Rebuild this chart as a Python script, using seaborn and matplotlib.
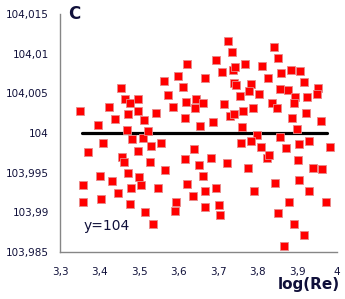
import matplotlib
matplotlib.use("Agg")
import matplotlib.pyplot as plt
import seaborn as sns
import pandas as pd
from matplotlib.ticker import MultipleLocator, FuncFormatter

sns.set_style("white")
plt.rcParams['font.family'] = ['DejaVu Sans']

# puntos (log(Re), valor)
log_re = [3.351, 3.371, 3.396, 3.409, 3.424, 3.439, 3.454, 3.464, 3.477, 3.472,
          3.469, 3.482, 3.497, 3.497, 3.512, 3.510, 3.522, 3.530, 3.555, 3.497,
          3.543, 3.563, 3.573, 3.586, 3.598, 3.621, 3.666, 3.611, 3.618, 3.644,
          3.661, 3.641, 3.616, 3.654, 3.725, 3.735, 3.694, 3.709, 3.737, 3.742,
          3.768, 3.810, 3.841, 3.851, 3.826, 3.859, 3.884, 3.907, 3.740, 3.745,
          3.783, 3.778, 3.803, 3.755, 3.856, 3.876, 3.917, 3.952, 3.950, 3.894,
          3.924, 3.714, 3.762, 3.788, 3.836, 3.848, 3.891, 3.922, 3.886, 3.960,
          3.730, 3.740, 3.687, 3.760, 3.899, 3.798, 3.856, 3.783, 3.757, 3.904,
          3.929, 3.639, 3.808, 3.871, 3.982, 3.457, 3.462, 3.527, 3.565, 3.472,
          3.401, 3.358, 3.431, 3.500, 3.505, 3.479, 3.548, 3.447, 3.358, 3.404,
          3.477, 3.593, 3.515, 3.591, 3.535, 3.616, 3.651, 3.661, 3.621, 3.636,
          3.666, 3.666, 3.682, 3.722, 3.694, 3.702, 3.704, 3.775, 3.790, 3.823,
          3.828, 3.901, 3.939, 3.962, 3.843, 3.904, 3.929, 3.879, 3.972, 3.851,
          3.891, 3.917, 3.866]
valor = [104.0028, 103.9976, 104.0010, 103.9987, 104.0033, 104.0018, 104.0057, 104.0043, 104.0038, 104.0024,
         104.0004, 103.9992, 104.0043, 104.0028, 104.0016, 103.9994, 104.0003, 103.9984, 103.9987, 103.9977,
         104.0025, 104.0066, 104.0048, 104.0033, 104.0072, 104.0087, 104.0069, 104.0058, 104.0039, 104.0043,
         104.0038, 104.0032, 104.0019, 104.0009, 104.0116, 104.0102, 104.0092, 104.0077, 104.0079, 104.0083,
         104.0087, 104.0084, 104.0108, 104.0095, 104.0069, 104.0076, 104.0079, 104.0078, 104.0063, 104.0061,
         104.0062, 104.0053, 104.0049, 104.0047, 104.0055, 104.0054, 104.0064, 104.0057, 104.0049, 104.0045,
         104.0045, 104.0037, 104.0028, 104.0032, 104.0038, 104.0032, 104.0038, 104.0025, 104.0019, 104.0015,
         104.0021, 104.0024, 104.0014, 104.0008, 104.0005, 103.9997, 103.9995, 103.9990, 103.9987, 103.9986,
         103.9990, 103.9980, 103.9982, 103.9981, 103.9982, 103.9970, 103.9963, 103.9963, 103.9953, 103.9950,
         103.9946, 103.9934, 103.9940, 103.9945, 103.9934, 103.9931, 103.9931, 103.9924, 103.9913, 103.9917,
         103.9911, 103.9913, 103.9900, 103.9902, 103.9885, 103.9967, 103.9960, 103.9946, 103.9936, 103.9921,
         103.9927, 103.9907, 103.9968, 103.9962, 103.9931, 103.9909, 103.9897, 103.9956, 103.9927, 103.9968,
         103.9972, 103.9966, 103.9956, 103.9955, 103.9937, 103.9941, 103.9927, 103.9913, 103.9913, 103.9899,
         103.9885, 103.9871, 103.9858]

# recta de referencia y=104
linea_x = [3.355, 3.975]
linea_y = [104, 104]

df = pd.DataFrame({'log_re': log_re, 'valor': valor})
df_linea = pd.DataFrame({'x': linea_x, 'y': linea_y})

fig = plt.figure(figsize=(3.45, 2.99), dpi=100)
ax = fig.add_axes([0.174, 0.157, 0.803, 0.796])

sns.lineplot(data=df_linea, x='x', y='y', color='black', linewidth=2.3, ax=ax, zorder=2)
sns.scatterplot(data=df, x='log_re', y='valor', marker='s', s=30, color='#ff0000',
                edgecolor='#e88a8a', linewidth=0.6, ax=ax, zorder=3)

ax.set_xlim(3.3, 4.0)
ax.set_ylim(103.985, 104.015)
ax.xaxis.set_major_locator(MultipleLocator(0.1))
ax.xaxis.set_minor_locator(MultipleLocator(0.02))
ax.yaxis.set_major_locator(MultipleLocator(0.005))
ax.yaxis.set_minor_locator(MultipleLocator(0.001))

coma = FuncFormatter(lambda v, p: f"{round(v, 4):g}".replace('.', ','))
ax.xaxis.set_major_formatter(coma)
ax.yaxis.set_major_formatter(coma)

for lado in ['top', 'right']:
    ax.spines[lado].set_visible(False)
for lado in ['left', 'bottom']:
    ax.spines[lado].set_color('#868686')
    ax.spines[lado].set_linewidth(1.0)

ax.tick_params(which='major', direction='out', length=5, width=1, color='#868686',
               labelsize=7.5, labelcolor='#10103a', pad=3)
ax.tick_params(which='minor', direction='in', length=4, width=1, color='#868686')
ax.tick_params(axis='x', which='major', pad=6)

ax.set_xlabel('')
ax.set_ylabel('')

fig.text(0.985, 0.025, 'log(Re)', ha='right', va='bottom', fontsize=11,
         fontweight='bold', color='#10103a')
ax.text(0.03, 1.0, 'C', transform=ax.transAxes, ha='left', va='center',
        fontsize=12, fontweight='bold', color='#10103a')
ax.text(3.36, 103.9883, 'y=104', ha='left', va='center', fontsize=10, color='#10103a')

plt.savefig('out.png', dpi=100)
plt.close()
